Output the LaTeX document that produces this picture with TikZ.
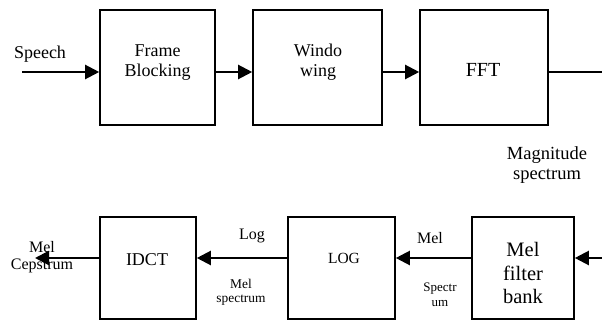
\documentclass[tikz,border=0pt]{standalone}
\usepackage{fontspec}
\setmainfont{Liberation Serif}
\usetikzlibrary{arrows.meta}
\begin{document}
\begin{tikzpicture}[x=1pt,y=-1pt,
  blk/.style={draw,line width=1.6pt,minimum width=#1,inner sep=0pt},
  arr/.style={line width=2.2pt,-{Triangle[length=14pt,width=14pt]}},
  thin/.style={line width=1.2pt},
  lbl/.style={inner sep=0pt,align=center,font=#1},
]
\useasboundingbox (0,0) rectangle (602,321);
% top row
\node[blk=115pt,minimum height=115pt] (fb) at (157.5,67.5) {};
\node[blk=129pt,minimum height=115pt] (win) at (317.5,67.5) {};
\node[blk=128pt,minimum height=115pt] (fft) at (484,67.5) {};
\coordinate (sin) at (22,72);
\coordinate (fout) at (602,72);
\draw[arr] (sin) -- (sin -| fb.west);
\draw[arr] (fb.east |- sin) -- (win.west |- sin);
\draw[arr] (win.east |- sin) -- (fft.west |- sin);
\draw[thin] (fft.east |- sin) -- (fout);
\node[lbl={\fontsize{18}{20}\selectfont}] (speech) at (40,54) {Speech};
\node[lbl={\fontsize{18}{20}\selectfont}] (fbt) at (157.5,63) {Frame\\Blocking};
\node[lbl={\fontsize{18}{20}\selectfont}] (wint) at (318,62.5) {Windo\\wing};
\node[lbl={\fontsize{20}{22}\selectfont}] (fftt) at (483,70) {FFT};
\node[lbl={\fontsize{18.5}{20}\selectfont}] (mag) at (547,165) {Magnitude\\spectrum};
% bottom row
\node[blk=96pt,minimum height=102pt] (idct) at (148,268) {};
\node[blk=107pt,minimum height=102pt] (log) at (341.5,268) {};
\node[blk=102pt,minimum height=102pt] (mfb) at (523,268) {};
\coordinate (rin) at (602,258);
\coordinate (cout) at (35,258);
\draw[arr] (rin) -- (rin -| mfb.east);
\draw[arr] (mfb.west |- rin) -- (log.east |- rin);
\draw[arr] (log.west |- rin) -- (idct.east |- rin);
\draw[arr] (idct.west |- rin) -- (cout);
\node[lbl={\fontsize{18}{20}\selectfont}] (idctt) at (147,260) {IDCT};
\node[lbl={\fontsize{15.5}{18}\selectfont}] (logt) at (344,258) {LOG};
\node[lbl={\fontsize{20.5}{23.5}\selectfont}] (mfbt) at (523,273) {Mel\\filter\\bank};
\node[lbl={\fontsize{16}{18}\selectfont}] (logl) at (252,236) {Log};
\node[lbl={\fontsize{13.4}{14}\selectfont}] (melspec) at (241,292) {Mel\\spectrum};
\node[lbl={\fontsize{16}{18}\selectfont}] (mell) at (430,238) {Mel};
\node[lbl={\fontsize{13}{15}\selectfont}] (spectrum) at (440,295) {Spectr\\um};
\node[lbl={\fontsize{16}{17}\selectfont}] (melcep) at (42,257) {Mel\\Cepstrum};
\end{tikzpicture}
\end{document}
